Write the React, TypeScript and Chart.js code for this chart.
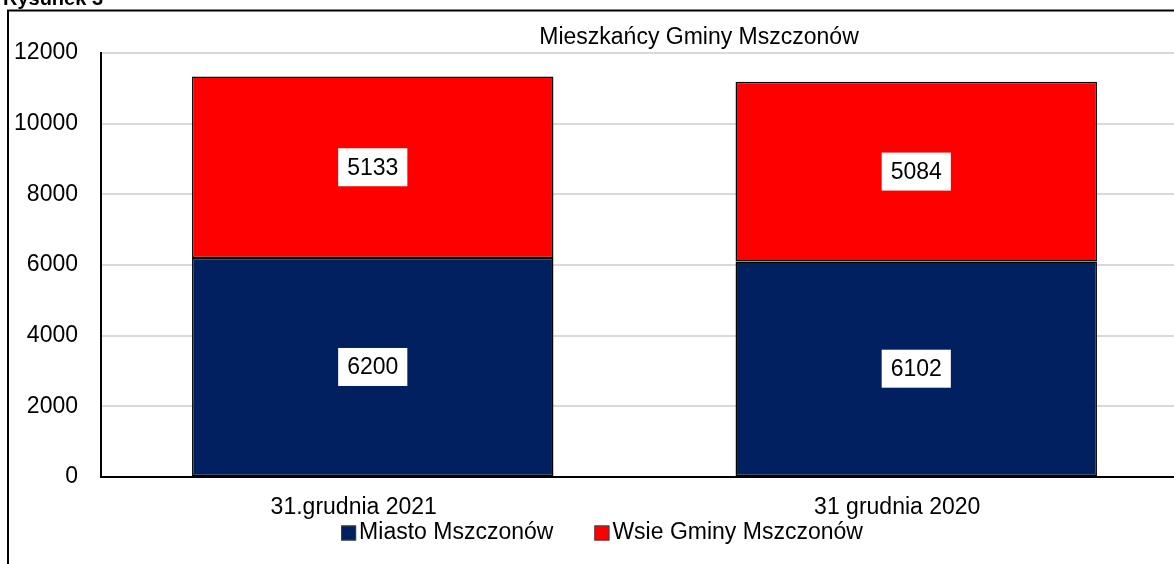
import React, { useEffect, useRef } from "react";
import { Chart, registerables } from "chart.js";

Chart.register(...registerables);

const categories = ["31.grudnia 2021", "31 grudnia 2020"];
const seriesNames = ["Miasto Mszczonów", "Wsie Gminy Mszczonów"];
const miastoValues = [6200, 6102];
const wsieValues = [5133, 5084];
const seriesColors = ["#002060", "#FF0000"];
const yMin = 0;
const yMax = 12000;
const yStep = 2000;
const chartTitle = "Mieszkańcy Gminy Mszczonów";
const figureLabel = "Rysunek 3";

const FONT = "'Liberation Sans', Arial, sans-serif";
const CW = 1400;
const CH = 600;

const decorPlugin = {
  id: "decor",
  beforeDraw(chart: any) {
    const ctx = chart.ctx;
    ctx.save();
    ctx.fillStyle = "#ffffff";
    ctx.fillRect(0, 0, chart.width, chart.height);
    ctx.strokeStyle = "#000000";
    ctx.lineWidth = 2;
    ctx.strokeRect(8, 10.5, 3000, 3000);
    ctx.fillStyle = "#000000";
    ctx.font = "bold 20px " + FONT;
    ctx.textAlign = "right";
    ctx.textBaseline = "alphabetic";
    ctx.fillText(figureLabel, 103, 5);
    ctx.font = "23px " + FONT;
    ctx.textAlign = "center";
    ctx.textBaseline = "middle";
    ctx.fillText(chartTitle, 699, 38);
    ctx.restore();
  },
  afterDatasetsDraw(chart: any) {
    const ctx = chart.ctx;
    ctx.save();
    ctx.font = "23px " + FONT;
    ctx.textAlign = "center";
    ctx.textBaseline = "middle";
    chart.data.datasets.forEach((ds: any, i: number) => {
      const meta = chart.getDatasetMeta(i);
      meta.data.forEach((el: any, j: number) => {
        const txt = String(ds.data[j]);
        const w = ctx.measureText(txt).width + 18;
        const h = 38;
        const cx = el.x;
        const cy = (el.y + el.base) / 2;
        ctx.fillStyle = "#ffffff";
        ctx.fillRect(cx - w / 2, cy - h / 2, w, h);
        ctx.fillStyle = "#000000";
        ctx.fillText(txt, cx, cy + 1);
      });
    });
    ctx.restore();
  },
  afterDraw(chart: any) {
    const ctx = chart.ctx;
    ctx.save();
    ctx.font = "23px " + FONT;
    ctx.textBaseline = "middle";
    ctx.textAlign = "left";
    const box = 15;
    const gapBoxText = 3;
    const gapItems = 41;
    const items = chart.data.datasets.map((ds: any) => ({
      label: ds.label,
      color: ds.backgroundColor,
      w: ctx.measureText(ds.label).width,
    }));
    let total = 0;
    items.forEach((it: any, i: number) => {
      total += box + gapBoxText + it.w + (i < items.length - 1 ? gapItems : 0);
    });
    let x = 602 - total / 2;
    const y = 533;
    items.forEach((it: any) => {
      ctx.fillStyle = it.color;
      ctx.fillRect(x, y - box / 2, box, box);
      ctx.strokeStyle = "#404040";
      ctx.lineWidth = 1;
      ctx.strokeRect(x + 0.5, y - box / 2 + 0.5, box - 1, box - 1);
      ctx.fillStyle = "#000000";
      ctx.fillText(it.label, x + box + gapBoxText, y);
      x += box + gapBoxText + it.w + gapItems;
    });
    ctx.restore();
  },
};

function ChartView() {
  const ref = useRef<HTMLCanvasElement | null>(null);
  useEffect(() => {
    if (!ref.current) return;
    const chart = new Chart(ref.current, {
      type: "bar",
      data: {
        labels: categories,
        datasets: [
          {
            label: seriesNames[0],
            data: miastoValues,
            backgroundColor: seriesColors[0],
            borderColor: "#000000",
            borderWidth: 1.5,
            borderSkipped: false,
            barPercentage: 0.665,
            categoryPercentage: 1,
          },
          {
            label: seriesNames[1],
            data: wsieValues,
            backgroundColor: seriesColors[1],
            borderColor: "#000000",
            borderWidth: 1.5,
            borderSkipped: false,
            barPercentage: 0.665,
            categoryPercentage: 1,
          },
        ],
      },
      options: {
        responsive: false,
        animation: false,
        layout: { padding: { left: 0, right: CW - 1188, top: 53, bottom: 0 } },
        plugins: {
          legend: { display: false },
          title: { display: false },
          tooltip: { enabled: false },
        },
        scales: {
          x: {
            stacked: true,
            grid: { display: false, drawTicks: false },
            border: { display: true, color: "#000000", width: 2 },
            ticks: {
              color: "#000000",
              font: { family: FONT, size: 23 },
              padding: 17,
              labelOffset: -19,
              maxRotation: 0,
            },
            afterFit: (s: any) => {
              s.height = CH - 477;
            },
          },
          y: {
            stacked: true,
            min: yMin,
            max: yMax,
            grid: { color: "#d9d9d9", lineWidth: 2, drawTicks: false },
            border: { display: true, color: "#000000", width: 2 },
            ticks: {
              stepSize: yStep,
              color: "#000000",
              font: { family: FONT, size: 23 },
              padding: 23,
              callback: (v: any) => String(v),
            },
            afterFit: (s: any) => {
              s.width = 101;
            },
          },
        },
      },
      plugins: [decorPlugin],
    });
    return () => chart.destroy();
  }, []);
  return (
    <canvas
      ref={ref}
      width={CW}
      height={CH}
      style={{ position: "absolute", left: 0, top: 0, width: CW, height: CH }}
    />
  );
}

export default function App() {
  return (
    <div
      style={{
        position: "absolute",
        left: 0,
        top: 0,
        width: 1174,
        height: 564,
        overflow: "hidden",
        background: "#ffffff",
      }}
    >
      <ChartView />
    </div>
  );
}
